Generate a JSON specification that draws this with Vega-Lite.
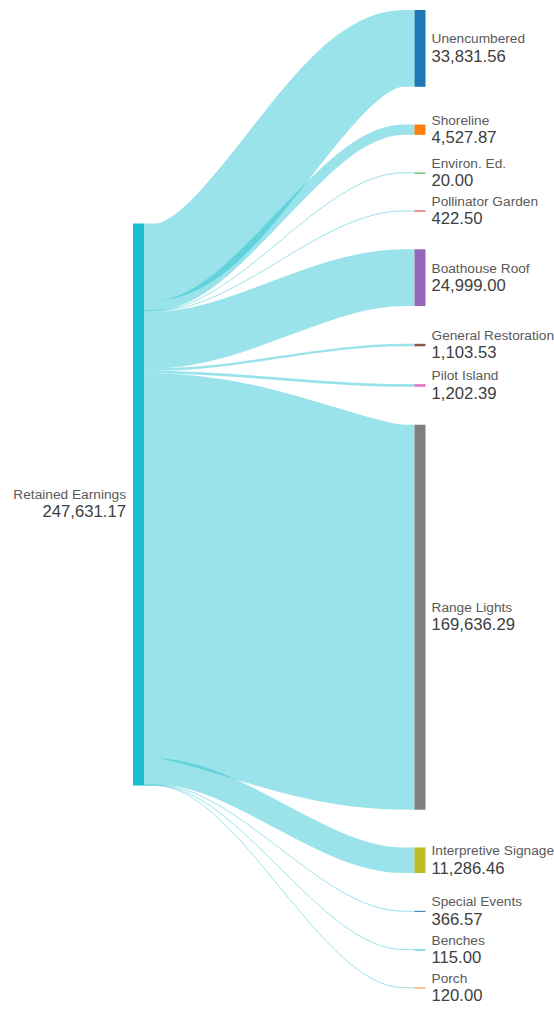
{
  "$schema": "https://vega.github.io/schema/vega-lite/v6.json",
  "width": 554,
  "height": 1009,
  "autosize": "none",
  "padding": 0,
  "background": "white",
  "config": {"view": {"stroke": null}},
  "data": {
    "values": [
      {"source": "Retained Earnings", "target": "Unencumbered", "value": 33831.56},
      {"source": "Retained Earnings", "target": "Shoreline", "value": 4527.87},
      {"source": "Retained Earnings", "target": "Environ. Ed.", "value": 20.00},
      {"source": "Retained Earnings", "target": "Pollinator Garden", "value": 422.50},
      {"source": "Retained Earnings", "target": "Boathouse Roof", "value": 24999.00},
      {"source": "Retained Earnings", "target": "General Restoration", "value": 1103.53},
      {"source": "Retained Earnings", "target": "Pilot Island", "value": 1202.39},
      {"source": "Retained Earnings", "target": "Range Lights", "value": 169636.29},
      {"source": "Retained Earnings", "target": "Interpretive Signage", "value": 11286.46},
      {"source": "Retained Earnings", "target": "Special Events", "value": 366.57},
      {"source": "Retained Earnings", "target": "Benches", "value": 115.00},
      {"source": "Retained Earnings", "target": "Porch", "value": 120.00}
    ]
  },
  "transform": [
    {"window": [{"op": "sum", "field": "value", "as": "cum"}, {"op": "row_number", "as": "idx"}], "frame": [null, 0]},
    {"calculate": "datum.cum - datum.value", "as": "before"},
    {"calculate": "98480 + datum.before + datum.value / 2", "as": "srcMid"},
    {"calculate": "4406 + datum.before + (datum.idx - 1) * 16656", "as": "tgtTop"},
    {"calculate": "datum.tgtTop + max(datum.value, 441)", "as": "tgtBot"},
    {"calculate": "datum.tgtTop + datum.value / 2", "as": "tgtMid"}
  ],
  "layer": [
    {
      "transform": [
        {"calculate": "datum.srcMid", "as": "p0"},
        {"calculate": "datum.srcMid", "as": "p1"},
        {"calculate": "datum.tgtMid", "as": "p2"},
        {"calculate": "datum.tgtMid", "as": "p3"},
        {"fold": ["p0", "p1", "p2", "p3"], "as": ["pt", "py"]},
        {"calculate": "datum.pt === 'p0' ? 0 : datum.pt === 'p1' ? 0.04 : datum.pt === 'p2' ? 0.96 : 1", "as": "px"}
      ],
      "mark": {"type": "line", "interpolate": "monotone", "color": "#17becf", "strokeOpacity": 0.43, "strokeCap": "butt"},
      "encoding": {
        "x": {"field": "px", "type": "quantitative", "scale": {"domain": [0, 1], "range": [144, 414.5], "nice": false, "zero": false}, "axis": null},
        "y": {"field": "py", "type": "quantitative", "scale": {"domain": [0, 444590], "reverse": true, "nice": false, "zero": false}, "axis": null},
        "detail": {"field": "target", "type": "nominal"},
        "order": {"field": "px", "type": "quantitative"},
        "strokeWidth": {"field": "value", "type": "quantitative", "scale": {"domain": [0, 441, 247631.17], "range": [1, 1, 562]}, "legend": null}
      }
    },
    {
      "mark": {"type": "rect"},
      "encoding": {
        "x": {"datum": 1, "type": "quantitative"},
        "x2": {"datum": 1.04067},
        "y": {"field": "tgtTop", "type": "quantitative"},
        "y2": {"field": "tgtBot"},
        "color": {
          "field": "target", "type": "nominal", "legend": null,
          "scale": {
            "domain": ["Unencumbered", "Shoreline", "Environ. Ed.", "Pollinator Garden", "Boathouse Roof", "General Restoration", "Pilot Island", "Range Lights", "Interpretive Signage", "Retained Earnings", "Special Events", "Benches", "Porch"],
            "range": ["#1f77b4", "#ff7f0e", "#2ca02c", "#d62728", "#9467bd", "#8c564b", "#e377c2", "#7f7f7f", "#bcbd22", "#17becf", "#1f77b4", "#17becf", "#ff7f0e"]
          }
        }
      }
    },
    {
      "transform": [
        {"aggregate": [{"op": "sum", "field": "value", "as": "total"}], "groupby": ["source"]},
        {"calculate": "98480", "as": "srcTop"},
        {"calculate": "98480 + datum.total", "as": "srcBot"}
      ],
      "mark": {"type": "rect"},
      "encoding": {
        "x": {"datum": -0.04067, "type": "quantitative"},
        "x2": {"datum": 0},
        "y": {"field": "srcTop", "type": "quantitative"},
        "y2": {"field": "srcBot"},
        "color": {"field": "source", "type": "nominal", "legend": null}
      }
    },
    {
      "mark": {"type": "text", "align": "left", "baseline": "alphabetic", "dx": 6, "dy": -5, "font": "Liberation Sans", "fontSize": 13.7, "fill": "#5a5a5a"},
      "encoding": {
        "x": {"datum": 1.04067, "type": "quantitative"},
        "y": {"field": "tgtMid", "type": "quantitative"},
        "text": {"field": "target", "type": "nominal"}
      }
    },
    {
      "mark": {"type": "text", "align": "left", "baseline": "alphabetic", "dx": 6, "dy": 13.3, "font": "Liberation Sans", "fontSize": 16.7, "fill": "#404040"},
      "encoding": {
        "x": {"datum": 1.04067, "type": "quantitative"},
        "y": {"field": "tgtMid", "type": "quantitative"},
        "text": {"field": "value", "type": "quantitative", "format": ",.2f"}
      }
    },
    {
      "transform": [
        {"aggregate": [{"op": "sum", "field": "value", "as": "total"}], "groupby": ["source"]},
        {"calculate": "98480 + datum.total / 2", "as": "srcMidAll"}
      ],
      "mark": {"type": "text", "align": "right", "baseline": "alphabetic", "dx": -7, "dy": -6, "font": "Liberation Sans", "fontSize": 13.7, "fill": "#5a5a5a"},
      "encoding": {
        "x": {"datum": -0.04067, "type": "quantitative"},
        "y": {"field": "srcMidAll", "type": "quantitative"},
        "text": {"field": "source", "type": "nominal"}
      }
    },
    {
      "transform": [
        {"aggregate": [{"op": "sum", "field": "value", "as": "total"}], "groupby": ["source"]},
        {"calculate": "98480 + datum.total / 2", "as": "srcMidAll"}
      ],
      "mark": {"type": "text", "align": "right", "baseline": "alphabetic", "dx": -7, "dy": 12, "font": "Liberation Sans", "fontSize": 16.7, "fill": "#404040"},
      "encoding": {
        "x": {"datum": -0.04067, "type": "quantitative"},
        "y": {"field": "srcMidAll", "type": "quantitative"},
        "text": {"field": "total", "type": "quantitative", "format": ",.2f"}
      }
    }
  ]
}
